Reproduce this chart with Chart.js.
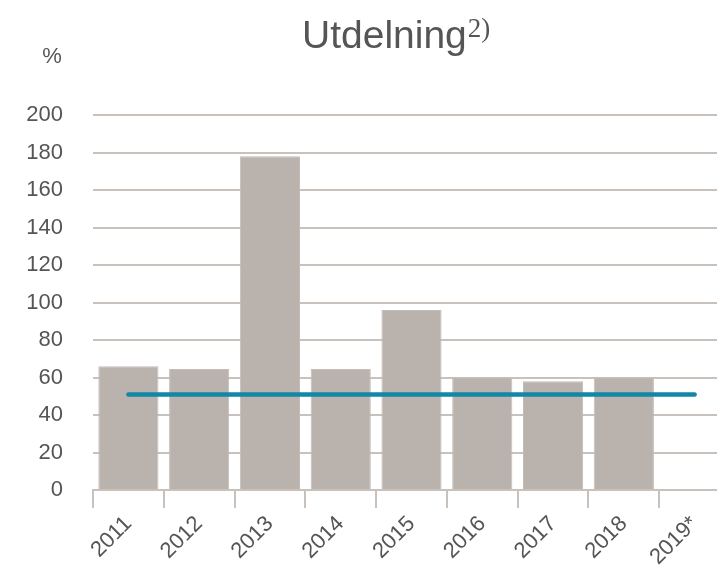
<!DOCTYPE html>
<html>
<head>
<meta charset="utf-8">
<script src="https://cdn.jsdelivr.net/npm/chart.js@4"></script>
<style>
  html, body { margin: 0; padding: 0; background: #fff; overflow: hidden; }
  #wrap { position: relative; width: 731px; height: 566px; }
</style>
</head>
<body>
<div id="wrap"><canvas id="myChart" width="731" height="566"></canvas></div>
<script>
const years = ["2011", "2012", "2013", "2014", "2015", "2016", "2017", "2018", "2019*"];
const payout = [66, 64.5, 178, 64.5, 96, 60, 58, 60, null];
const target = [51, 51, 51, 51, 51, 51, 51, 51, 51];
const yTicks = [0, 20, 40, 60, 80, 100, 120, 140, 160, 180, 200];

const textColor = "#555555";
const gridColor = "#c9c1bc";

// title, superscript and the % unit label
const headerPlugin = {
  id: "header",
  afterDraw(chart) {
    const ctx = chart.ctx;
    ctx.save();
    ctx.fillStyle = textColor;
    ctx.textBaseline = "alphabetic";
    ctx.textAlign = "left";
    ctx.font = "39px 'Liberation Sans', Arial, sans-serif";
    const main = "Utdelning";
    ctx.fillText(main, 302, 48);
    const w = ctx.measureText(main).width;
    ctx.font = "27px 'Liberation Serif', 'Times New Roman', serif";
    ctx.fillText("2)", 302 + w + 1, 37);
    ctx.font = "22px 'Liberation Sans', Arial, sans-serif";
    ctx.textAlign = "center";
    ctx.fillText("%", 52, 63);
    ctx.restore();
  }
};

new Chart(document.getElementById("myChart").getContext("2d"), {
  data: {
    labels: years,
    datasets: [
      {
        type: "line",
        data: target,
        borderColor: "#1287a8",
        borderWidth: 4.5,
        pointRadius: 0,
        borderCapStyle: "round",
        order: 0,
      },
      {
        type: "bar",
        data: payout,
        backgroundColor: "#bab2ad",
        borderColor: "#c4bcb7",
        borderWidth: 1,
        barPercentage: 0.85,
        categoryPercentage: 1,
        order: 1,
      },
    ],
  },
  options: {
    responsive: false,
    animation: false,
    layout: { padding: { top: 115, right: 1, left: 0, bottom: 0 } },
    plugins: { legend: { display: false }, tooltip: { enabled: false }, title: { display: false } },
    scales: {
      x: {
        afterFit: (s) => { s.height = 76; },
        grid: {
          offset: true,
          drawOnChartArea: false,
          color: gridColor,
          lineWidth: 2,
          tickLength: 18,
        },
        border: { color: gridColor, width: 2 },
        ticks: {
          color: textColor,
          font: { family: "'Liberation Sans', Arial, sans-serif", size: 22 },
          minRotation: 45,
          maxRotation: 45,
          padding: 3,
        },
      },
      y: {
        min: 0,
        max: 200,
        afterFit: (s) => { s.width = 93; },
        afterBuildTicks: (s) => { s.ticks = yTicks.map((v) => ({ value: v })); },
        grid: { color: gridColor, lineWidth: 2, drawTicks: false },
        border: { display: false },
        ticks: {
          color: textColor,
          font: { family: "'Liberation Sans', Arial, sans-serif", size: 22 },
          padding: 30,
        },
      },
    },
  },
  plugins: [headerPlugin],
});
</script>
</body>
</html>
